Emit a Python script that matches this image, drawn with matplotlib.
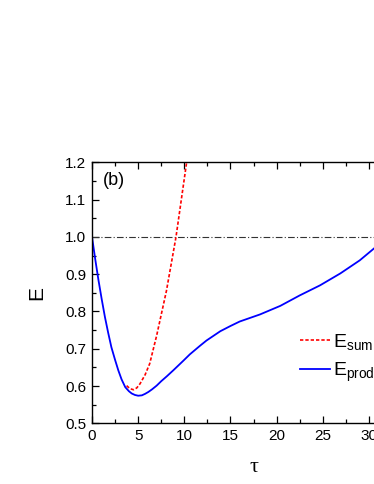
import matplotlib
matplotlib.use("Agg")
import matplotlib.pyplot as plt
from matplotlib.ticker import MultipleLocator

plt.rcParams['font.family'] = 'Liberation Sans'
plt.rcParams['mathtext.fontset'] = 'custom'
plt.rcParams['mathtext.rm'] = 'Liberation Sans'
plt.rcParams['mathtext.it'] = 'Liberation Sans'

# values
tau_prod = [0, 0.35, 0.7, 1.05, 1.4, 1.75, 2.1, 2.5, 2.85, 3.2, 3.6, 4.0, 4.3,
            4.65, 5.0, 5.4, 5.75, 6.1, 6.5, 7.0, 7.5, 8.1, 8.8, 9.9, 10.6, 11.7,
            12.4, 13.9, 15.0, 16.0, 18.2, 20.4, 22.5, 24.7, 26.9, 29.0, 30.55, 32.0]
e_prod = [1.0, 0.94, 0.884, 0.833, 0.785, 0.743, 0.704, 0.670, 0.642, 0.618,
          0.597, 0.586, 0.580, 0.576, 0.574, 0.575, 0.579, 0.584, 0.591, 0.601,
          0.613, 0.626, 0.642, 0.668, 0.685, 0.708, 0.722, 0.747, 0.761, 0.773,
          0.792, 0.815, 0.843, 0.870, 0.902, 0.937, 0.969, 1.0]

tau_sum = [3.75, 4.1, 4.5, 4.85, 5.2, 5.75, 6.25, 7.0, 8.06, 9.1, 10.25]
e_sum = [0.601, 0.593, 0.590, 0.595, 0.606, 0.630, 0.660, 0.735, 0.855, 1.0, 1.2]

fig = plt.figure(figsize=(3.74, 4.84), dpi=100)
# axes runs off the right edge, as in the reference crop
ax = fig.add_axes([0.246, 0.1254, 0.864, 0.5393])

ax.axhline(1.0, color='#333333', lw=0.8, ls=(0, (6, 2, 1, 2)))
ax.plot(tau_sum, e_sum, color='red', ls=(0, (2, 1.2)), lw=1.2, label=r'$\mathrm{E_{sum}}$')
ax.plot(tau_prod, e_prod, color='blue', lw=1.3, label=r'$\mathrm{E_{prod}}$')

ax.set_xlim(0, 35)
ax.set_ylim(0.5, 1.2)
ax.xaxis.set_major_locator(MultipleLocator(5))
ax.xaxis.set_minor_locator(MultipleLocator(2.5))
ax.yaxis.set_major_locator(MultipleLocator(0.1))
ax.yaxis.set_minor_locator(MultipleLocator(0.05))
ax.tick_params(which='both', direction='in', top=True, right=True, labelsize=11, width=0.9)
ax.tick_params(which='major', length=5, pad=4)
ax.tick_params(which='minor', length=3)
for s in ax.spines.values():
    s.set_linewidth(1.0)

ax.set_xlabel('τ', family='Liberation Serif', fontsize=16, labelpad=11)
ax.set_ylabel('E', fontsize=15, labelpad=14)
ax.text(0.035, 0.93, '(b)', transform=ax.transAxes, fontsize=13, va='center')

ax.legend(loc='upper left', bbox_to_anchor=(300 / 374, (484 - 332) / 484),
          bbox_transform=fig.transFigure, frameon=False, fontsize=14,
          handlelength=1.55, handletextpad=0.15, labelspacing=0.45,
          borderpad=0, borderaxespad=0)

fig.savefig('out.png', dpi=100)
